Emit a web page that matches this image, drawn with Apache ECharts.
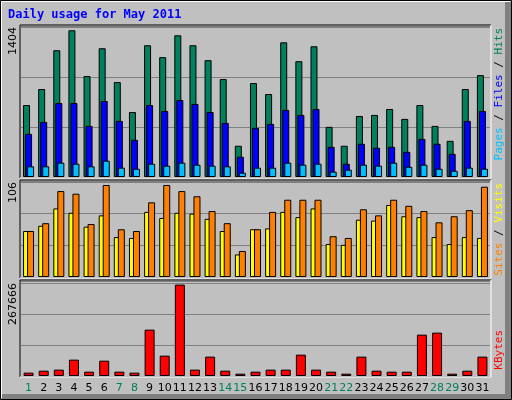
<!DOCTYPE html>
<html><head><meta charset="utf-8">
<script src="https://cdn.jsdelivr.net/npm/echarts@6/dist/echarts.min.js"></script>
<style>html,body{margin:0;padding:0;background:#C0C0C0}#c{width:512px;height:400px}</style>
</head><body><div id="c"></div>
<script>
const days = Array.from({length:31},(_,i)=>String(i+1));
const weekend = ['1','7','8','14','15','21','22','28','29'];
const hits  = [689,842,1213,1404,966,1232,908,622,1261,1147,1356,1261,1118,937,299,899,794,1289,1108,1251,480,299,584,594,651,556,689,489,346,842,975];
const files = [413,527,708,708,489,727,537,356,689,632,737,699,622,518,194,470,508,642,594,651,289,127,318,280,289,241,365,318,222,537,632];
const pages = [102,102,137,127,102,156,89,79,127,108,137,118,108,102,41,89,89,137,118,127,51,70,118,108,137,98,118,79,60,89,79];
const sites  = [53,59,79,74,58,71,46,45,75,68,74,73,67,53,26,55,56,75,69,79,38,37,66,65,83,70,69,46,38,46,45];
const visits = [53,62,99,96,61,106,55,53,86,106,99,93,76,62,30,55,75,89,89,89,47,45,78,71,89,82,76,63,70,77,104];
const kbytes = [9770,15600,18600,47900,12700,44900,12700,9770,135800,59600,267666,18600,56700,15600,6800,12700,18600,18600,62500,18600,12700,6800,56700,15600,12700,12700,121100,127000,6800,15600,56700];
const maxLabels = ['1404','106','267666'];

const bs = {borderColor:'#000',borderWidth:1};
const grids = [
  {left:21,right:22,top:26,height:151},
  {left:21,right:22,top:181,height:96},
  {left:21,right:22,top:281,height:95}
];
function xa(i){return {type:'category',gridIndex:i,data:days,axisLine:{show:false},axisTick:{show:false},
  axisLabel:i===2?{show:true,margin:7,fontSize:11,fontFamily:'DejaVu Sans',interval:0,
    color:(v)=>weekend.includes(v)?'#00805C':'#000'}:{show:false}};}
function ya(i,max,intv){return {type:'value',gridIndex:i,min:0,max:max,interval:intv,axisLabel:{show:false},
  axisLine:{show:false},axisTick:{show:false},splitLine:{show:true,lineStyle:{color:'#808080',width:1}}};}
function panel(g){
  const x=g.left-1,y=g.top-1,w=512-g.left-g.right+2,h=g.height+2;
  return [
    {type:'polyline',shape:{points:[[x,y+h],[x,y],[x+w,y]]},style:{stroke:'#000',lineWidth:1,fill:null},z:10},
    {type:'polyline',shape:{points:[[x+w,y],[x+w,y+h],[x,y+h]]},style:{stroke:'#fff',lineWidth:1,fill:null},z:10}
  ];
}
const F = '11px DejaVu Sans Mono';
function vtext(x,y,rich,parts){
  return {type:'text',x:x,y:y,rotation:Math.PI/2,z:20,style:{text:parts,rich:rich,align:'right',verticalAlign:'middle',font:F}};
}
const st = (c)=>({fill:c,font:F});
const opt = {
  animation:false,backgroundColor:'#C0C0C0',
  grid:grids,
  xAxis:[xa(0),xa(1),xa(2)],
  yAxis:[ya(0,1445,477),ya(1,110.6,36.5),ya(2,278200,91000)],
  series:[
    {type:'bar',xAxisIndex:0,yAxisIndex:0,data:hits,barWidth:7,barGap:'-71%',itemStyle:{color:'#00805C',...bs}},
    {type:'bar',xAxisIndex:0,yAxisIndex:0,data:files,barWidth:7,barGap:'-71%',itemStyle:{color:'#0000FF',...bs}},
    {type:'bar',xAxisIndex:0,yAxisIndex:0,data:pages,barWidth:7,barGap:'-71%',itemStyle:{color:'#00C0FF',...bs}},
    {type:'bar',xAxisIndex:1,yAxisIndex:1,data:sites,barWidth:7,barGap:'-43%',itemStyle:{color:'#FFFF00',...bs}},
    {type:'bar',xAxisIndex:1,yAxisIndex:1,data:visits,barWidth:7,barGap:'-43%',itemStyle:{color:'#FF8000',...bs}},
    {type:'bar',xAxisIndex:2,yAxisIndex:2,data:kbytes,barWidth:10,itemStyle:{color:'#FF0000',...bs}}
  ],
  graphic:[
    {type:'rect',shape:{x:0.5,y:0.5,width:511,height:399},style:{fill:null,stroke:'#000',lineWidth:1},z:1},
    {type:'rect',shape:{x:505,y:2,width:6,height:397},style:{fill:'#808080'},z:1},
    {type:'rect',shape:{x:2,y:394,width:509,height:5},style:{fill:'#808080'},z:1},
    {type:'polyline',shape:{points:[[1.5,398],[1.5,1.5],[510,1.5]]},style:{stroke:'#fff',lineWidth:1,fill:null},z:1},
    {type:'text',x:8,y:15,z:20,style:{text:'Daily usage for May 2011',fill:'#0000FF',font:'bold 12px DejaVu Sans Mono',verticalAlign:'middle'}},
    ...panel(grids[0]),...panel(grids[1]),...panel(grids[2]),
    {type:'text',x:13,y:27,rotation:Math.PI/2,z:20,style:{text:maxLabels[0],align:'right',verticalAlign:'middle',font:'11px DejaVu Sans',fill:'#000'}},
    {type:'text',x:13,y:182,rotation:Math.PI/2,z:20,style:{text:maxLabels[1],align:'right',verticalAlign:'middle',font:'11px DejaVu Sans',fill:'#000'}},
    {type:'text',x:13,y:283,rotation:Math.PI/2,z:20,style:{text:maxLabels[2],align:'right',verticalAlign:'middle',font:'11px DejaVu Sans',fill:'#000'}},
    vtext(499,28,{p:st('#00C0FF'),f:st('#0000FF'),h:st('#00805C'),s:st('#000')},'{p|Pages}{s| / }{f|Files}{s| / }{h|Hits}'),
    vtext(499,183,{a:st('#FF8000'),b:st('#FFFF00'),s:st('#000')},'{a|Sites}{s| / }{b|Visits}'),
    vtext(499,330,{k:st('#FF0000')},'{k|KBytes}')
  ]
};
echarts.init(document.getElementById('c')).setOption(opt);
</script></body></html>
